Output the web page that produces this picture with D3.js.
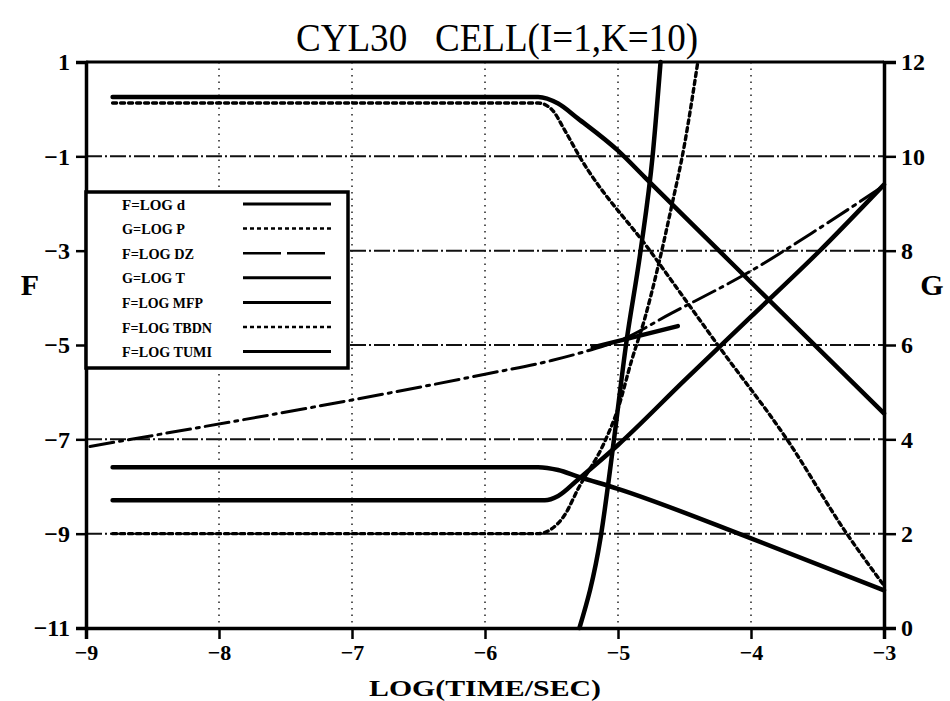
<!DOCTYPE html>
<html>
<head>
<meta charset="utf-8">
<script src="https://cdn.jsdelivr.net/npm/d3@7"></script>
<style>
  body { margin: 0; background: #fff; }
  text { font-family: "Liberation Serif", "Times New Roman", serif; fill: #000; white-space: pre; }
</style>
</head>
<body>
<div id="root"></div>
<script>
const width = 950;
const height = 701;

// ticks
const xTicks = [-9, -8, -7, -6, -5, -4, -3];
const fTicks = [1, -1, -3, -5, -7, -9, -11];
const gTicks = [12, 10, 8, 6, 4, 2, 0];
const gridX = [-8, -7, -6, -5, -4];
const gridF = [-1, -3, -5, -7, -9];

// F=LOG d (left axis)
const dX = [-8.8, -5.6, -5.45, -5.3, -5.0, -4.8, -4.0, -3.0];
const dY = [0.26, 0.26, 0.12, -0.2, -0.88, -1.44, -3.67, -6.45];

// G=LOG P (right axis)
const pX = [-8.8, -5.6, -5.5, -5.4, -5.29, -4.76, -4.25, -3.73, -3.28, -3.0];
const pY = [11.13, 11.13, 11.0, 10.55, 10.0, 8.0, 6.0, 4.0, 2.0, 0.9];

// F=LOG DZ
const dzX = [-8.97, -6.0, -5.5, -5.2, -5.0, -4.6, -4.0, -3.5, -3.0];
const dzY = [-7.15, -5.62, -5.33, -5.1, -4.92, -4.33, -3.43, -2.55, -1.62];

// G=LOG T (right axis)
const tX = [-8.8, -5.55, -5.45, -5.3, -5.0, -4.5, -4.0, -3.5, -3.0];
const tY = [2.71, 2.71, 2.8, 3.15, 3.88, 5.25, 6.6, 7.95, 9.4];

// F=LOG MFP
const mfpX = [-8.8, -5.6, -5.45, -5.3, -5.0, -4.0, -3.0];
const mfpY = [-7.59, -7.59, -7.65, -7.79, -8.05, -9.1, -10.2];

// F=LOG TBDN
const tbX = [-8.8, -5.6, -5.5, -5.4, -5.3, -5.1, -5.0, -4.9, -4.8, -4.7, -4.6, -4.5, -4.4];
const tbY = [-9, -9, -8.9, -8.6, -8.05, -7.05, -6.35, -5.35, -4.45, -3.35, -2.1, -0.75, 1.0];

// F=LOG TUMI
const tuX = [-5.29, -5.13, -5.03, -4.94, -4.83, -4.74, -4.68];
const tuY = [-11, -9.07, -7.0, -5.0, -3.0, -1.0, 1.0];

// short solid piece near the DZ curve
const segX = [-5.19, -4.55];
const segY = [-5.05, -4.6];

const legendLabels = ['F=LOG d', 'G=LOG P', 'F=LOG DZ', 'G=LOG T', 'F=LOG MFP', 'F=LOG TBDN', 'F=LOG TUMI'];

const svg = d3.select('#root').append('svg')
  .attr('width', width)
  .attr('height', height);

const x = d3.scaleLinear().domain([-9, -3]).range([86, 884]);
const yF = d3.scaleLinear().domain([-11, 1]).range([628, 62]);
const yG = d3.scaleLinear().domain([0, 12]).range([628, 62]);

const styles = {
  solid: {w: 4.5, dash: null},
  dot: {w: 3.4, dash: '4,4'},
  dashdot: {w: 3, dash: '24,6,3,6'}
};

// grid
svg.append('g').selectAll('line').data(gridF).enter().append('line')
  .attr('x1', x(-9)).attr('x2', x(-3))
  .attr('y1', d => yF(d)).attr('y2', d => yF(d))
  .attr('stroke', '#111').attr('stroke-width', 2)
  .attr('stroke-dasharray', '16,3,2,3');
svg.append('g').selectAll('line').data(gridX).enter().append('line')
  .attr('x1', d => x(d)).attr('x2', d => x(d))
  .attr('y1', yF(1)).attr('y2', yF(-11))
  .attr('stroke', '#222').attr('stroke-width', 1.5)
  .attr('stroke-dasharray', '1.5,5');

// curves
const series = [
  {xs: dX, ys: dY, y: yF, st: 'solid'},
  {xs: pX, ys: pY, y: yG, st: 'dot'},
  {xs: dzX, ys: dzY, y: yF, st: 'dashdot'},
  {xs: tX, ys: tY, y: yG, st: 'solid'},
  {xs: mfpX, ys: mfpY, y: yF, st: 'solid'},
  {xs: tbX, ys: tbY, y: yF, st: 'dot'},
  {xs: tuX, ys: tuY, y: yF, st: 'solid'},
  {xs: segX, ys: segY, y: yF, st: 'solid'}
];

series.forEach(s => {
  const pts = s.xs.map((v, i) => [v, s.ys[i]]);
  const line = d3.line()
    .x(d => x(d[0]))
    .y(d => s.y(d[1]))
    .curve(d3.curveMonotoneX);
  svg.append('path')
    .datum(pts)
    .attr('d', line)
    .attr('fill', 'none')
    .attr('stroke', '#000')
    .attr('stroke-width', styles[s.st].w)
    .attr('stroke-linejoin', 'round')
    .attr('stroke-linecap', 'round')
    .attr('stroke-dasharray', styles[s.st].dash);
});

// frame and axes
svg.append('line').attr('x1', x(-9)).attr('x2', x(-3)).attr('y1', yF(1)).attr('y2', yF(1))
  .attr('stroke', '#000').attr('stroke-width', 3);

const minus = d => d3.format('d')(d).replace('-', '\u2212');
const axisLeft = d3.axisLeft(yF).tickValues(fTicks).tickSize(10).tickPadding(6).tickFormat(minus);
const axisRight = d3.axisRight(yG).tickValues(gTicks).tickSize(12).tickPadding(5);
const axisBottom = d3.axisBottom(x).tickValues(xTicks).tickSize(11).tickPadding(3).tickFormat(minus);

function styleAxis(g, size) {
  g.select('.domain').attr('stroke', '#000').attr('stroke-width', 3.5);
  g.selectAll('.tick line').attr('stroke', '#000').attr('stroke-width', 2.5);
  g.selectAll('.tick text')
    .attr('font-family', '"Liberation Serif", serif')
    .attr('font-weight', 'bold')
    .attr('font-size', size)
    .attr('fill', '#000');
}

svg.append('g').attr('transform', `translate(${x(-9)},0)`).call(axisLeft).call(styleAxis, 24);
svg.append('g').attr('transform', `translate(${x(-3)},0)`).call(axisRight).call(styleAxis, 24);
svg.append('g').attr('transform', `translate(0,${yF(-11)})`).call(axisBottom).call(styleAxis, 22)
  .selectAll('.tick text').attr('dy', '0.8em');

// titles
svg.append('text')
  .attr('x', 296).attr('y', 51)
  .attr('font-size', 40)
  .attr('textLength', 402).attr('lengthAdjust', 'spacingAndGlyphs')
  .text('CYL30   CELL(I=1,K=10)');

svg.append('text')
  .attr('x', 485).attr('y', 696)
  .attr('text-anchor', 'middle')
  .attr('font-size', 24).attr('font-weight', 'bold')
  .attr('textLength', 232).attr('lengthAdjust', 'spacingAndGlyphs')
  .text('LOG(TIME/SEC)');

svg.append('text').attr('x', 30).attr('y', 295).attr('text-anchor', 'middle')
  .attr('font-size', 30).attr('font-weight', 'bold').text('F');
svg.append('text').attr('x', 932).attr('y', 295).attr('text-anchor', 'middle')
  .attr('font-size', 30).attr('font-weight', 'bold').text('G');

// legend
const legend = svg.append('g').attr('transform', 'translate(86,192)');
legend.append('rect')
  .attr('width', 262).attr('height', 176)
  .attr('fill', '#fff').attr('stroke', '#000').attr('stroke-width', 3.5);

const legendStyles = ['solid', 'dot', 'dashdot', 'solid', 'solid', 'dot', 'solid'];
const row = legend.selectAll('g.row').data(legendLabels).enter().append('g')
  .attr('class', 'row')
  .attr('transform', (d, i) => `translate(0,${12 + i * 24.6})`);
row.append('text')
  .attr('x', 36).attr('y', 5.5)
  .attr('font-size', 15).attr('font-weight', 'bold')
  .attr('textLength', d => d.length * 9).attr('lengthAdjust', 'spacingAndGlyphs')
  .text(d => d);
row.append('line')
  .attr('x1', 157).attr('x2', 245).attr('y1', 0).attr('y2', 0)
  .attr('stroke', '#000')
  .attr('stroke-width', (d, i) => legendStyles[i] === 'solid' ? 3 : 2.5)
  .attr('stroke-dasharray', (d, i) => legendStyles[i] === 'dot' ? '4,3' : (legendStyles[i] === 'dashdot' ? '38,6' : null));
</script>
</body>
</html>
